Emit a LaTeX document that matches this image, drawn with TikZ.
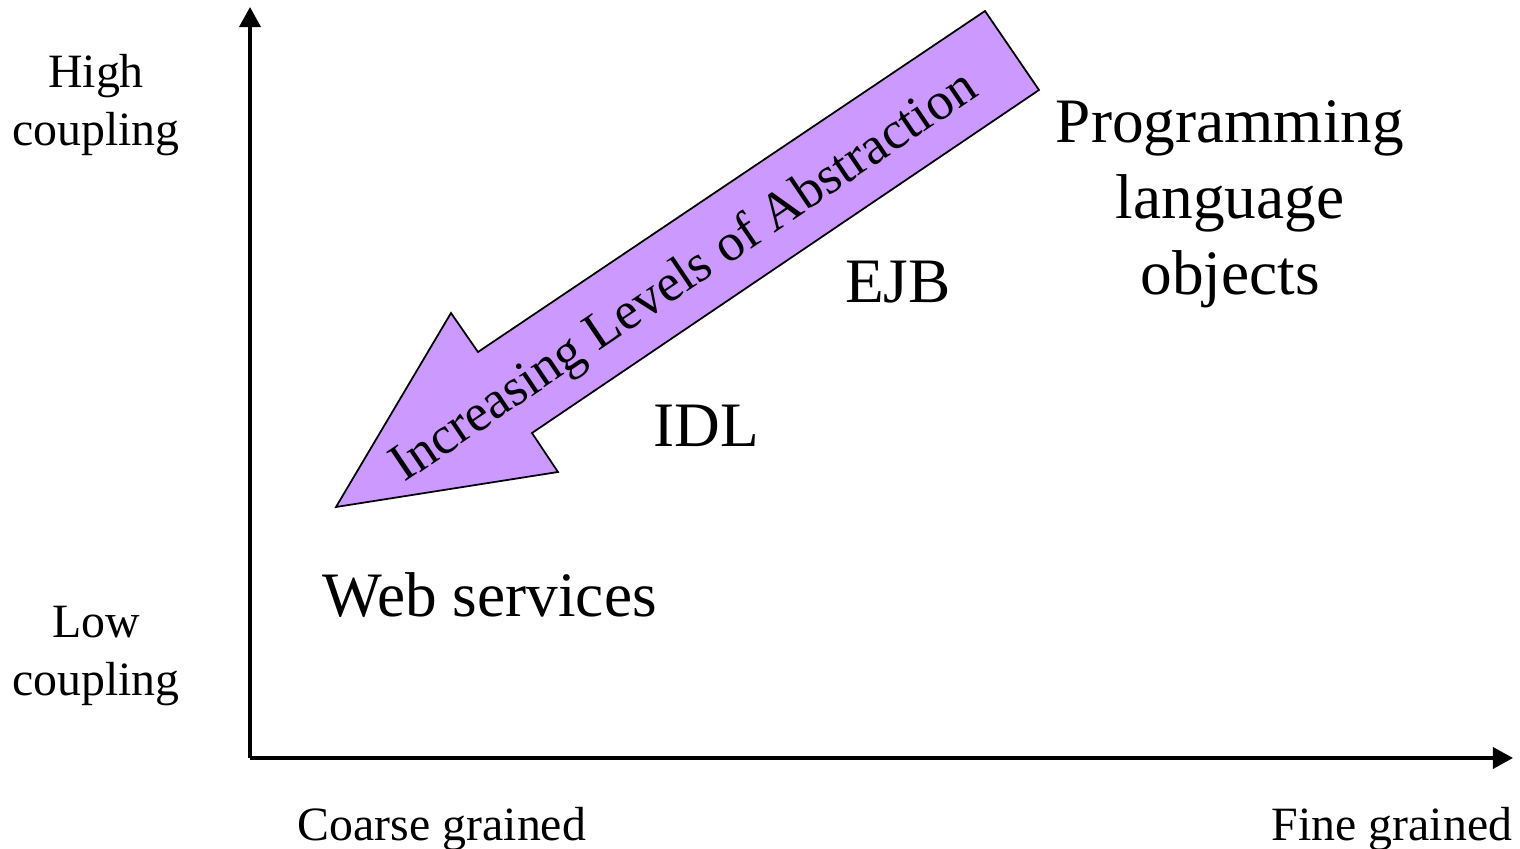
\documentclass[tikz,border=0pt]{standalone}
\usepackage{fontspec}
\setmainfont{Liberation Serif}
\usetikzlibrary{arrows.meta}
\definecolor{lav}{HTML}{CC99FF}
\tikzset{
  axis/.style={line width=1pt,-{Triangle[length=0.2cm,width=0.21cm]}},
  axlabel/.style={font=\fontsize{13.6}{16.5}\selectfont,align=center,inner sep=0pt},
  biglabel/.style={font=\fontsize{18}{21.6}\selectfont,align=center,inner sep=0pt},
}
\begin{document}
\begin{tikzpicture}[x=0.01cm,y=-0.01cm]
\useasboundingbox (0,0) rectangle (1520,849);
\coordinate (O) at (250,758);
\coordinate (Ytop) at (250,7);
\coordinate (Xend) at (1513,758);
\draw[axis] (O) -- (Ytop);
\draw[axis] (O) -- (Xend);
% big arrow
\draw[fill=lav,line width=0.5pt,line join=miter]
  (336,507) -- (451,313) -- (478,352) -- (985,11) -- (1039,90) -- (532,433) -- (558,472) -- cycle;
\node[font=\fontsize{15.1}{18}\selectfont,rotate=34,inner sep=0pt] (abs) at (685,278) {Increasing Levels of Abstraction};
\node[axlabel] (high) at (96,105) {High\\coupling};
\node[axlabel] (low) at (96,656) {Low\\coupling};
\node[axlabel,anchor=base] (coarse) at (442,841) {Coarse grained};
\node[axlabel,anchor=base east] (fine) at (1513,841) {Fine grained};
\node[biglabel,anchor=base west] (web) at (322,617) {Web services};
\node[biglabel] (plo) at (1230,204) {Programming\\language\\objects};
\node[biglabel,anchor=base] (ejb) at (898,303) {EJB};
\node[biglabel,anchor=base] (idl) at (706,447) {IDL};
\end{tikzpicture}
\end{document}
